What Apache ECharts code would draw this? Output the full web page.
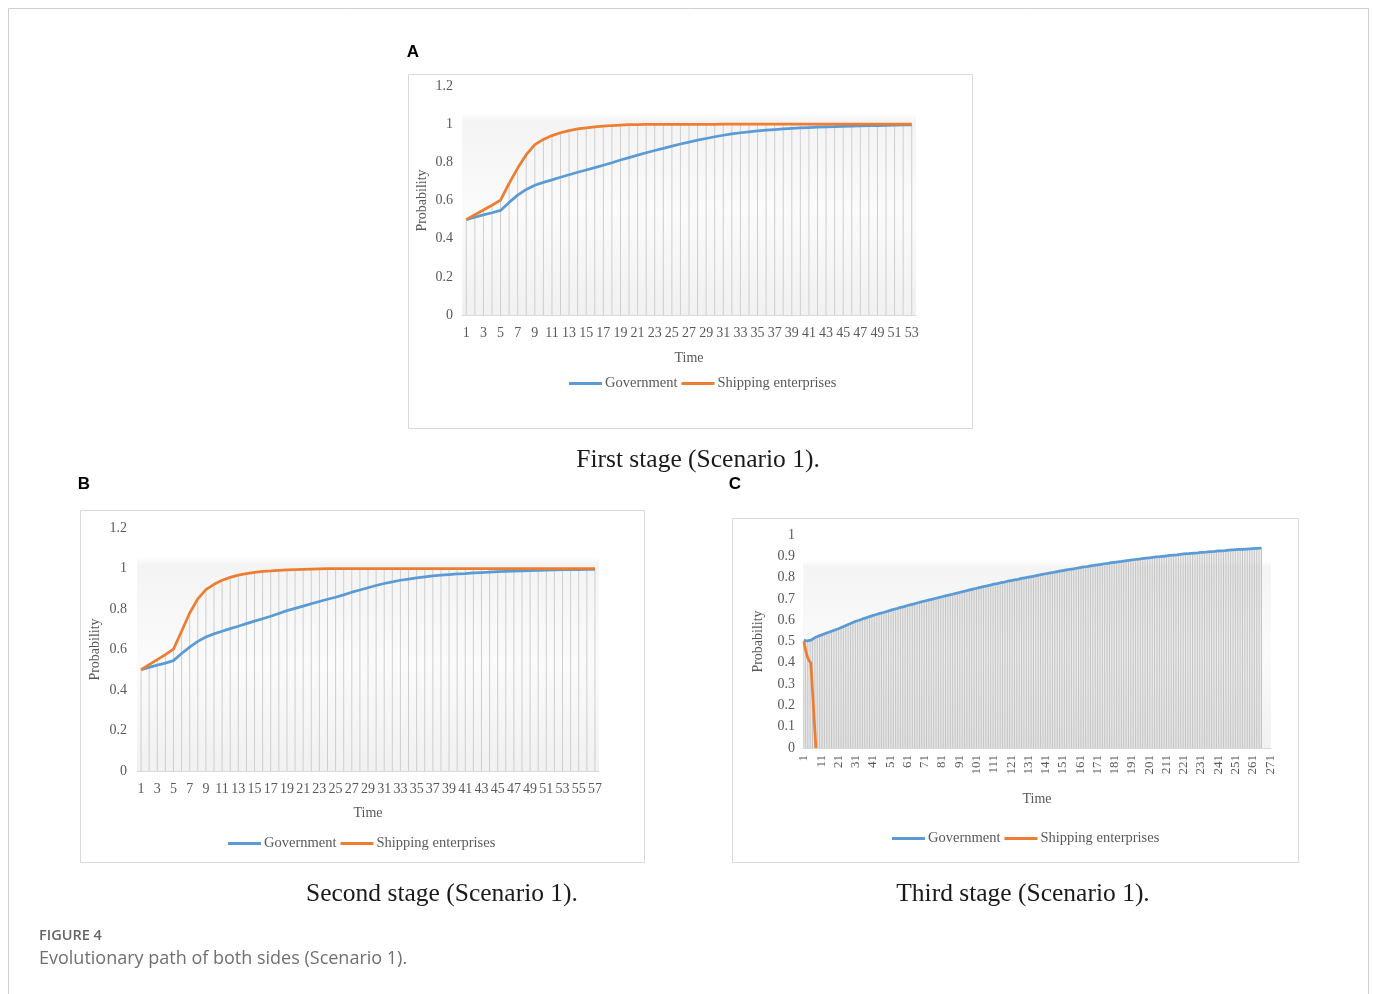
<!DOCTYPE html>
<html>
<head>
<meta charset="utf-8">
<title>Evolutionary path of both sides (Scenario 1)</title>
<script src="https://cdn.jsdelivr.net/npm/echarts@6/dist/echarts.min.js"></script>
<style>
  body { margin: 0; background: #fff; }
  #chart { width: 1373px; height: 994px; }
</style>
</head>
<body>
<div id="chart"></div>
<script>
// 三个阶段的演化路径
// A: first stage, 53 steps
const govA = [
  0.500, 0.512, 0.525, 0.536, 0.548, 0.590, 0.628, 0.658, 0.680, 0.695,
  0.708, 0.722, 0.735, 0.748, 0.760, 0.772, 0.785, 0.798, 0.812, 0.825,
  0.838, 0.850, 0.862, 0.873, 0.885, 0.896, 0.906, 0.916, 0.925, 0.934,
  0.942, 0.949, 0.955, 0.960, 0.965, 0.969, 0.972, 0.975, 0.978, 0.980,
  0.982, 0.984, 0.986, 0.987, 0.989, 0.990, 0.991, 0.992, 0.993, 0.994,
  0.995, 0.996, 0.996
]
const shipA = [
  0.500, 0.525, 0.550, 0.575, 0.602, 0.690, 0.770, 0.840, 0.893, 0.920,
  0.940, 0.955, 0.966, 0.975, 0.981, 0.986, 0.990, 0.993, 0.995, 0.997,
  0.998, 0.999, 0.999, 0.999, 0.999, 0.999, 0.999, 0.999, 0.999, 0.999,
  1, 1, 1, 1, 1, 1, 1, 1, 1, 1,
  1, 1, 1, 1, 1, 1, 1, 1, 1, 1,
  1, 1, 1
]

// B: second stage, 57 steps
const govB = [
  0.500, 0.512, 0.523, 0.533, 0.545, 0.580, 0.612, 0.640, 0.662, 0.677,
  0.690, 0.703, 0.715, 0.728, 0.740, 0.752, 0.764, 0.778, 0.792, 0.803,
  0.814, 0.826, 0.837, 0.848, 0.858, 0.870, 0.883, 0.894, 0.905, 0.916,
  0.926, 0.934, 0.942, 0.948, 0.954, 0.959, 0.964, 0.967, 0.970, 0.973,
  0.975, 0.978, 0.980, 0.982, 0.984, 0.986, 0.987, 0.988, 0.990, 0.991,
  0.992, 0.993, 0.994, 0.994, 0.995, 0.996, 0.996
]
const shipB = [
  0.500, 0.525, 0.550, 0.575, 0.602, 0.690, 0.780, 0.850, 0.896, 0.922,
  0.942, 0.956, 0.967, 0.975, 0.981, 0.986, 0.988, 0.991, 0.993, 0.995,
  0.996, 0.997, 0.998, 0.999, 0.999, 0.999, 0.999, 0.999, 0.999, 0.999,
  1, 1, 1, 1, 1, 1, 1, 1, 1, 1,
  1, 1, 1, 1, 1, 1, 1, 1, 1, 1,
  1, 1, 1, 1, 1, 1, 1
]

// C: third stage, axis runs to 271, government curve ends near 266
const govC = [
  0.505, 0.503, 0.503, 0.504, 0.506, 0.511, 0.516, 0.520, 0.524, 0.527,
  0.530, 0.533, 0.536, 0.539, 0.542, 0.545, 0.548, 0.551, 0.554, 0.557,
  0.560, 0.564, 0.567, 0.571, 0.574, 0.578, 0.581, 0.585, 0.588, 0.592,
  0.595, 0.598, 0.600, 0.603, 0.606, 0.608, 0.611, 0.614, 0.617, 0.619,
  0.622, 0.624, 0.627, 0.629, 0.632, 0.634, 0.636, 0.639, 0.641, 0.644,
  0.646, 0.648, 0.651, 0.653, 0.655, 0.658, 0.660, 0.662, 0.664, 0.667,
  0.669, 0.671, 0.673, 0.675, 0.677, 0.680, 0.682, 0.684, 0.686, 0.688,
  0.690, 0.692, 0.694, 0.696, 0.698, 0.700, 0.702, 0.704, 0.706, 0.708,
  0.710, 0.712, 0.714, 0.716, 0.718, 0.720, 0.722, 0.724, 0.726, 0.728,
  0.730, 0.732, 0.734, 0.736, 0.738, 0.740, 0.742, 0.744, 0.746, 0.748,
  0.750, 0.752, 0.754, 0.756, 0.758, 0.760, 0.761, 0.763, 0.765, 0.767,
  0.769, 0.771, 0.772, 0.774, 0.776, 0.777, 0.779, 0.781, 0.783, 0.784,
  0.786, 0.788, 0.789, 0.791, 0.792, 0.794, 0.796, 0.797, 0.799, 0.800,
  0.802, 0.804, 0.805, 0.807, 0.808, 0.810, 0.812, 0.813, 0.815, 0.816,
  0.818, 0.819, 0.821, 0.822, 0.824, 0.825, 0.827, 0.828, 0.830, 0.831,
  0.833, 0.834, 0.836, 0.837, 0.839, 0.840, 0.841, 0.843, 0.844, 0.846,
  0.847, 0.848, 0.850, 0.851, 0.852, 0.853, 0.855, 0.856, 0.857, 0.859,
  0.860, 0.861, 0.862, 0.864, 0.865, 0.866, 0.867, 0.868, 0.870, 0.871,
  0.872, 0.873, 0.874, 0.875, 0.876, 0.878, 0.879, 0.880, 0.881, 0.882,
  0.883, 0.884, 0.885, 0.886, 0.887, 0.888, 0.889, 0.890, 0.891, 0.892,
  0.893, 0.894, 0.895, 0.896, 0.897, 0.898, 0.898, 0.899, 0.900, 0.901,
  0.902, 0.903, 0.904, 0.905, 0.906, 0.907, 0.907, 0.908, 0.909, 0.910,
  0.911, 0.912, 0.912, 0.913, 0.914, 0.914, 0.915, 0.916, 0.916, 0.917,
  0.918, 0.919, 0.919, 0.920, 0.921, 0.921, 0.922, 0.923, 0.923, 0.924,
  0.925, 0.926, 0.926, 0.927, 0.927, 0.928, 0.929, 0.929, 0.930, 0.930,
  0.931, 0.931, 0.932, 0.932, 0.933, 0.933, 0.934, 0.934, 0.935, 0.935,
  0.936, 0.937, 0.937, 0.938, 0.938, 0.939
]
const shipC = [0.500, 0.460, 0.430, 0.410, 0.400, 0.270, 0.130, 0]

// 横轴刻度：1..N
const timeA = Array.from({ length: 53 }, (_, i) => String(i + 1))
const timeB = Array.from({ length: 57 }, (_, i) => String(i + 1))
const timeC = Array.from({ length: 271 }, (_, i) => String(i + 1))

const SERIES_NAMES = ['Government', 'Shipping enterprises']
const COLORS = ['#5b9bd5', '#ed7d31']
const SERIF = '"Liberation Serif", "DejaVu Serif", serif'
const TICK = '#595959'

// drop lines: from the higher curve down to the axis
function dropLines(gov, ship, n) {
  const out = []
  for (let i = 0; i < n; i++) {
    const a = gov[i], b = ship[i]
    if (a == null && b == null) out.push(null)
    else out.push(Math.max(a == null ? 0 : a, b == null ? 0 : b))
  }
  return out
}

const plotBg = {
  type: 'linear', x: 0, y: 0, x2: 0, y2: 1,
  colorStops: [
    { offset: 0, color: '#ffffff' },
    { offset: 0.12, color: '#ffffff' },
    { offset: 0.15, color: '#f4f4f4' },
    { offset: 0.55, color: '#fbfbfb' },
    { offset: 1, color: '#f1f1f1' }
  ]
}

const grids = [
  { left: 462, top: 86, width: 454, height: 229 },
  { left: 137, top: 528, width: 462, height: 243 },
  { left: 803, top: 535, width: 468, height: 213 }
].map(g => ({ ...g, show: true, backgroundColor: plotBg, borderWidth: 0, containLabel: false }))

function xAxisFor(idx, data, opts) {
  return {
    gridIndex: idx,
    type: 'category',
    data,
    name: 'Time',
    nameLocation: 'middle',
    nameGap: opts.nameGap,
    nameTextStyle: { fontFamily: SERIF, fontSize: 14, color: TICK },
    axisLine: { lineStyle: { color: '#d9d9d9', width: 1 } },
    axisTick: { show: false },
    axisLabel: {
      interval: opts.interval,
      rotate: opts.rotate || 0,
      margin: opts.margin,
      fontFamily: SERIF,
      fontSize: opts.fontSize || 14,
      color: TICK
    },
    splitLine: { show: false }
  }
}

function yAxisFor(idx, max, interval, opts) {
  return {
    gridIndex: idx,
    type: 'value',
    min: 0,
    max,
    interval,
    name: 'Probability',
    nameLocation: 'middle',
    nameGap: opts.nameGap,
    nameTextStyle: { fontFamily: SERIF, fontSize: 14, color: TICK },
    axisLine: { show: false },
    axisTick: { show: false },
    splitLine: { show: false },
    axisLabel: { margin: opts.margin, fontFamily: SERIF, fontSize: 14, color: TICK }
  }
}

function seriesFor(idx, gov, ship, n, dropColor) {
  return [
    {
      type: 'bar', xAxisIndex: idx, yAxisIndex: idx,
      data: dropLines(gov, ship, n),
      barWidth: 1, silent: true, z: 1,
      itemStyle: { color: dropColor }
    },
    {
      name: SERIES_NAMES[0], type: 'line', xAxisIndex: idx, yAxisIndex: idx,
      data: gov, showSymbol: false, symbol: 'none', z: 3,
      lineStyle: { color: COLORS[0], width: 2.75 }, itemStyle: { color: COLORS[0] }
    },
    {
      name: SERIES_NAMES[1], type: 'line', xAxisIndex: idx, yAxisIndex: idx,
      data: ship, showSymbol: false, symbol: 'none', z: 4,
      lineStyle: { color: COLORS[1], width: 2.75 }, itemStyle: { color: COLORS[1] }
    }
  ]
}

function legendAt(left, top) {
  return {
    data: SERIES_NAMES,
    left, top,
    icon: 'rect',
    itemWidth: 33,
    itemHeight: 3,
    itemGap: 4,
    selectedMode: false,
    textStyle: { fontFamily: SERIF, fontSize: 14.5, color: TICK, padding: [0, 0, 0, -2] }
  }
}

function txt(x, y, text, font, fill, align) {
  return {
    type: 'text', x, y, silent: true,
    style: { text, font, fill: fill || '#000', align: align || 'center', verticalAlign: 'middle' }
  }
}

function box(x, y, w, h, stroke) {
  return {
    type: 'rect', silent: true, z: -10,
    shape: { x: x + 0.5, y: y + 0.5, width: w, height: h },
    style: { fill: 'none', stroke: stroke || '#d9d9d9', lineWidth: 1 }
  }
}

const chart = echarts.init(document.getElementById('chart'))
chart.setOption({
  animation: false,
  grid: grids,
  xAxis: [
    xAxisFor(0, timeA, { interval: 1, margin: 11, nameGap: 36 }),
    xAxisFor(1, timeB, { interval: 1, margin: 11, nameGap: 35 }),
    xAxisFor(2, timeC, { interval: 9, rotate: 90, margin: 7, nameGap: 44, fontSize: 13 })
  ],
  yAxis: [
    yAxisFor(0, 1.2, 0.2, { margin: 9, nameGap: 33 }),
    yAxisFor(1, 1.2, 0.2, { margin: 10, nameGap: 35 }),
    yAxisFor(2, 1, 0.1, { margin: 8, nameGap: 38 })
  ],
  legend: [legendAt(564, 371), legendAt(223, 831), legendAt(887, 826)],
  series: [
    ...seriesFor(0, govA, shipA, timeA.length, '#cecece'),
    ...seriesFor(1, govB, shipB, timeB.length, '#cecece'),
    ...seriesFor(2, govC, shipC, timeC.length, '#c4c4c4')
  ],
  graphic: [
    box(8, 8, 1360, 1000, '#cfcfcf'),
    box(408, 74, 564, 354),
    box(80, 510, 564, 352),
    box(732, 518, 566, 344),
    txt(413, 52, 'A', 'bold 17px "Liberation Sans", Arial, sans-serif'),
    txt(84, 484, 'B', 'bold 17px "Liberation Sans", Arial, sans-serif'),
    txt(735, 484, 'C', 'bold 17px "Liberation Sans", Arial, sans-serif'),
    txt(698, 460, 'First stage (Scenario 1).', '25.5px ' + SERIF, '#1a1a1a'),
    txt(442, 894, 'Second stage (Scenario 1).', '25.5px ' + SERIF, '#1a1a1a'),
    txt(1023, 894, 'Third stage (Scenario 1).', '25.5px ' + SERIF, '#1a1a1a'),
    txt(39, 936, 'FIGURE 4', '600 14.5px "Open Sans", sans-serif', '#666666', 'left'),
    txt(39, 959, 'Evolutionary path of both sides (Scenario 1).', '18px "Open Sans", sans-serif', '#707070', 'left')
  ]
})
</script>
</body>
</html>
